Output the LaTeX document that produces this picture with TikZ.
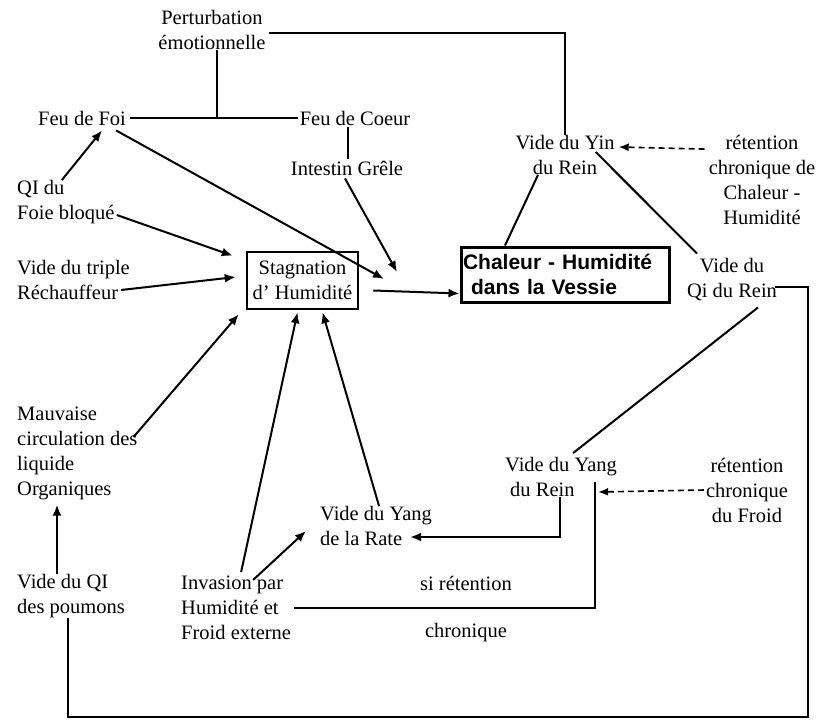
\documentclass[tikz,border=0pt]{standalone}
\usepackage{fontspec}
\setmainfont{Liberation Serif}
\newfontfamily\arialfont{Liberation Sans}
\usetikzlibrary{arrows.meta}
\begin{document}
\begin{tikzpicture}[x=1pt,y=-1pt,
  txt/.style={font=\fontsize{20.5}{25}\selectfont, inner sep=0pt, align=center},
  lft/.style={txt, align=left, anchor=west},
  con/.style={line width=2pt},
  arr/.style={con,-{Latex[length=11pt,width=9pt]}},
  darr/.style={line width=1.6pt, dash pattern=on 6pt off 4pt, -{Latex[length=10pt,width=8pt]}}]
\useasboundingbox[fill=white] (0,0) rectangle (821,723);
% nodes
\node[txt] (pert) at (212,30) {Perturbation\\émotionnelle};
\node[txt] (ffoi) at (82,118) {Feu de Foi};
\node[txt] (fcoeur) at (355,118) {Feu de Coeur};
\node[txt] (intestin) at (347,168) {Intestin Grêle};
\node[lft] (qifoie) at (17,202) {QI du\\Foie bloqué};
\node[lft] (triple) at (17,280) {Vide du triple\\Réchauffeur};
\node[lft] (mauv) at (17,453) {Mauvaise\\circulation des\\liquide\\Organiques};
\node[lft] (vqi) at (17,596) {Vide du QI\\des poumons};
\node[lft] (inv) at (181,608) {Invasion par\\Humidité et\\Froid externe};
\node[lft] (rate) at (320,526) {Vide du Yang\\de la Rate};
\node[txt,draw,line width=2.5pt,minimum width=111pt,minimum height=57pt] (stag) at (302.5,280.5) {Stagnation\\d' Humidité};
\node[draw,line width=3pt,minimum width=208pt,minimum height=55pt,align=left,
  font=\arialfont\bfseries\fontsize{21}{25}\selectfont,inner xsep=2pt,inner ysep=0pt,text width=204pt] (chal) at (565,274.5)
  {\raisebox{-3pt}{Chaleur - Humidité}\\\hspace*{8pt}\raisebox{-3pt}{dans la Vessie}};
\node[txt] (yin) at (565,155) {Vide du Yin\\du Rein};
\node[txt] (ret1) at (762,180) {rétention\\chronique de\\Chaleur -\\Humidité};
\node[txt] (qirein) at (732,280) {Vide du\\Qi du Rein};
\node[lft] (yang) at (505,477) {Vide du Yang\\\hspace*{5pt}du Rein};
\node[txt] (ret2) at (747,490) {rétention\\chronique\\du Froid};
\node[txt] (si) at (466,583) {si rétention};
\node[txt] (chron) at (466,633) {chronique};
% free ends
\coordinate (tipA) at (397,272);
\coordinate (tipB) at (384,279);
\coordinate (topbar) at (595,482);
\coordinate (loopBR) at (808,717);
% connectors
\draw[con] ([xshift=3pt,yshift=-3pt]pert.east) -| (yin.north);
\draw[con] ([xshift=4pt]ffoi.east) -- ([xshift=-2pt]fcoeur.west);
\draw[con] ([xshift=5pt]pert.south) -- ([xshift=5pt]pert.south |- ffoi.east);
\draw[con] ([xshift=-7pt,yshift=-2pt]fcoeur.south) -- ([xshift=1pt,yshift=2pt]intestin.north);
\draw[arr] ([xshift=-2pt,yshift=-3pt]intestin.south) -- (tipA);
\draw[arr] ([xshift=-10pt,yshift=-5pt]ffoi.south east) -- (tipB);
\draw[arr] ([xshift=-4pt]qifoie.north) -- ([xshift=20pt,yshift=-5pt]ffoi.south);
\draw[arr] ([xshift=2pt,yshift=-13pt]qifoie.east) -- ([xshift=-13pt,yshift=-5pt]stag.north west);
\draw[arr] ([xshift=-9pt,yshift=-10pt]triple.east) -- ([xshift=-10pt,yshift=3.5pt]stag.west);
\draw[arr] ([xshift=-4pt,yshift=16pt]mauv.east) -- ([xshift=-7pt,yshift=-4pt]stag.south west);
\draw[arr] ([xshift=5pt,yshift=4pt]inv.north) -- ([xshift=-5pt,yshift=-2pt]stag.south);
\draw[arr] ([xshift=3pt]rate.north) -- ([xshift=20pt,yshift=-2pt]stag.south);
\draw[arr] ([xshift=17pt,yshift=-4pt]inv.north) -- ([xshift=-14pt,yshift=-5pt]rate.west);
\draw[arr] ([xshift=14pt,yshift=-10pt]stag.east) -- ([yshift=-19pt]chal.west);
\draw[con] ([xshift=-27pt]yin.south) -- ([xshift=-60pt]chal.north);
\draw[con] ([xshift=-19pt,yshift=3pt]yin.east) -- ([xshift=-35pt,yshift=5pt]qirein.north);
\draw[darr] ([xshift=-4pt,yshift=-14pt]ret1.north west) -- ([xshift=4pt,yshift=8pt]yin.east);
\draw[con] ([xshift=26pt,yshift=-6pt]qirein.south) -- ([xshift=12pt,yshift=4pt]yang.north);
\draw[darr] ([xshift=-2pt]ret2.west) -- ([xshift=-19pt,yshift=-15pt]yang.east);
\draw[arr] ([xshift=-1pt]yang.south) |- ([xshift=-22pt,yshift=-11pt]rate.east);
\draw[con] ([xshift=3pt]inv.east) -| (topbar);
\draw[con] ([xshift=-3pt]vqi.south) |- (loopBR) |- ([xshift=-2pt,yshift=-7pt]qirein.east);
\draw[arr] ([xshift=-14pt]vqi.north) -- ([xshift=-14pt,yshift=-5pt]vqi.north |- mauv.south);
\end{tikzpicture}
\end{document}
